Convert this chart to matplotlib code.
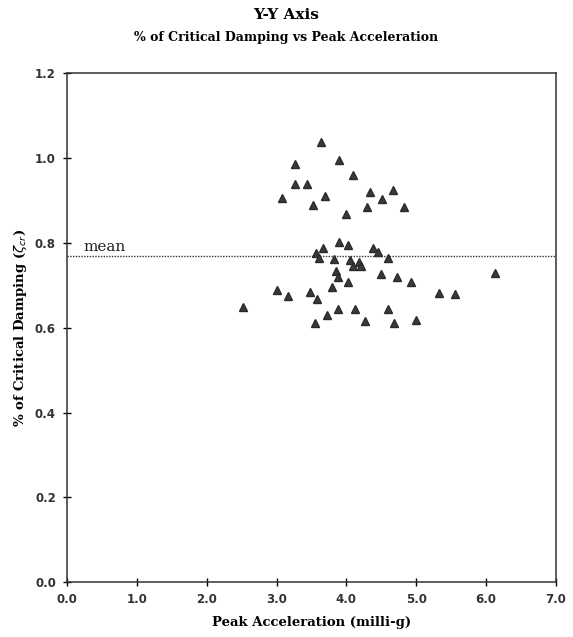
import numpy as np
import matplotlib
matplotlib.use('Agg')
import matplotlib.pyplot as plt

# peak acceleration (milli-g) and % critical damping
accel = [3.63, 3.27, 3.90, 4.10, 3.27, 3.44, 3.08, 3.70, 3.52, 4.34,
         4.67, 4.51, 4.29, 4.82, 3.99,
         3.89, 4.02, 3.67, 3.56, 3.61, 3.82, 4.38, 4.46, 4.59, 4.05,
         4.18, 4.10, 4.21, 3.85, 3.88, 4.50, 4.73, 4.92, 4.02, 3.80,
         3.00, 3.16, 3.48, 3.58, 5.32, 2.52, 3.88, 4.12, 4.60, 3.72,
         3.55, 4.27, 4.68, 5.00, 5.56, 6.13]
damping = [1.038, 0.985, 0.995, 0.961, 0.940, 0.938, 0.907, 0.910, 0.890, 0.920,
           0.925, 0.903, 0.884, 0.884, 0.869,
           0.801, 0.796, 0.789, 0.777, 0.764, 0.763, 0.789, 0.778, 0.765, 0.759,
           0.754, 0.746, 0.745, 0.733, 0.720, 0.726, 0.719, 0.709, 0.707, 0.697,
           0.689, 0.676, 0.684, 0.667, 0.681, 0.650, 0.645, 0.644, 0.644, 0.629,
           0.611, 0.615, 0.610, 0.619, 0.679, 0.730]
mean_val = 0.768

xticks = [0, 1, 2, 3, 4, 5, 6, 7]
yticks = [0.0, 0.2, 0.4, 0.6, 0.8, 1.0, 1.2]

fig = plt.figure(figsize=(5.73, 6.37), dpi=100)
ax = fig.add_axes([0.117, 0.086, 0.853, 0.799])

ax.plot(accel, damping, linestyle='none', marker='^', markersize=6.3,
        color='#3a3a3a', markeredgecolor='#2a2a2a')
ax.axhline(mean_val, color='#333333', linestyle=(0, (1, 1)), linewidth=1.0)
ax.text(0.24, mean_val + 0.012, 'mean', fontsize=11, family='DejaVu Serif',
        color='#222222')

ax.set_xlim(0, 7)
ax.set_ylim(0, 1.2)
ax.set_xticks(xticks)
ax.set_xticklabels(['%.1f' % v for v in xticks])
ax.set_yticks(yticks)
ax.set_yticklabels(['%.1f' % v for v in yticks])
ax.tick_params(direction='inout', length=6, width=1, labelsize=8.5, pad=5)
for lab in ax.get_xticklabels() + ax.get_yticklabels():
    lab.set_fontweight('bold')
    lab.set_color('#333333')
for s in ax.spines.values():
    s.set_linewidth(1.1)
    s.set_color('#333333')

ax.set_xlabel('Peak Acceleration (milli-g)', family='DejaVu Serif',
              fontweight='bold', fontsize=9.5, labelpad=7)
ax.set_ylabel(r'% of Critical Damping ($\zeta_{cr}$)', family='DejaVu Serif',
              fontweight='bold', fontsize=9.5, labelpad=4)

fig.text(0.5, 0.988, 'Y-Y Axis', ha='center', va='top', family='DejaVu Serif',
         fontweight='bold', fontsize=11)
fig.text(0.5, 0.951, '% of Critical Damping vs Peak Acceleration', ha='center',
         va='top', family='DejaVu Serif', fontweight='bold', fontsize=9)

fig.savefig('out.png', dpi=100)
